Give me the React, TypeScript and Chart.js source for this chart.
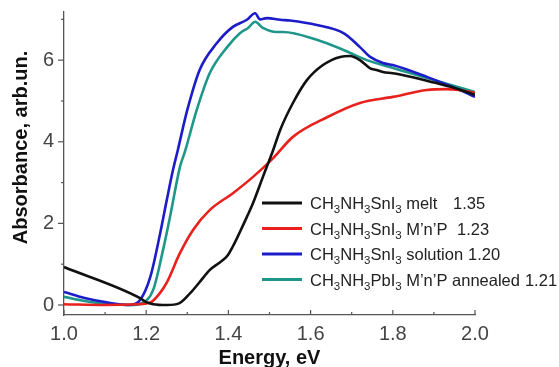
import { useEffect, useRef } from 'react';
import { Chart, registerables } from 'chart.js';

Chart.register(...registerables);

// ---- data ----
const meltEnergy = [1.0, 1.185, 1.2, 1.217, 1.25, 1.28, 1.307, 1.33, 1.355, 1.38, 1.397, 1.411, 1.428, 1.445, 1.46, 1.484, 1.509, 1.526, 1.557, 1.591, 1.63, 1.672, 1.696, 1.72, 1.745, 1.76, 1.776, 1.8, 1.84, 1.9, 1.95, 2.0];
const meltAbs = [0.93, 0.17, 0.07, 0.02, 0.0, 0.04, 0.29, 0.56, 0.86, 1.05, 1.2, 1.44, 1.79, 2.16, 2.5, 3.14, 3.8, 4.29, 4.95, 5.51, 5.88, 6.08, 6.1, 6.0, 5.8, 5.76, 5.71, 5.68, 5.6, 5.45, 5.32, 5.15];

const mnpEnergy = [1.0, 1.1, 1.18, 1.21, 1.23, 1.25, 1.282, 1.314, 1.355, 1.411, 1.46, 1.509, 1.557, 1.64, 1.72, 1.8, 1.883, 1.93, 1.96, 2.0];
const mnpAbs = [0.02, 0.0, 0.02, 0.06, 0.25, 0.55, 1.27, 1.84, 2.33, 2.74, 3.14, 3.6, 4.12, 4.6, 4.95, 5.1, 5.27, 5.29, 5.27, 5.2];

const solEnergy = [1.0, 1.05, 1.1, 1.16, 1.185, 1.21, 1.234, 1.25, 1.265, 1.277, 1.3, 1.33, 1.372, 1.41, 1.445, 1.465, 1.477, 1.494, 1.526, 1.55, 1.615, 1.68, 1.72, 1.745, 1.776, 1.8, 1.883, 1.963, 2.0];
const solAbs = [0.32, 0.17, 0.07, 0.0, 0.12, 0.69, 1.76, 2.57, 3.3, 3.8, 4.78, 5.76, 6.42, 6.81, 6.99, 7.15, 7.0, 7.03, 6.99, 6.97, 6.86, 6.66, 6.32, 6.08, 5.93, 5.88, 5.59, 5.27, 5.1];

const pbEnergy = [1.0, 1.05, 1.1, 1.16, 1.19, 1.217, 1.241, 1.258, 1.282, 1.294, 1.323, 1.355, 1.397, 1.428, 1.448, 1.465, 1.484, 1.518, 1.533, 1.615, 1.68, 1.737, 1.793, 1.84, 1.92, 2.0];
const pbAbs = [0.2, 0.1, 0.03, 0.0, 0.05, 0.37, 1.35, 2.16, 3.38, 3.75, 4.78, 5.69, 6.32, 6.66, 6.79, 6.94, 6.79, 6.69, 6.69, 6.5, 6.25, 6.0, 5.83, 5.69, 5.45, 5.22];

const seriesNames = ['CH3NH3SnI3 melt', 'CH3NH3SnI3 M\u2019n\u2019P', 'CH3NH3SnI3 solution', 'CH3NH3PbI3 M\u2019n\u2019P annealed'];
const bandGaps = ['1.35', '1.23', '1.20', '1.21'];
const seriesColors = ['#111111', '#e8211d', '#1c1cc8', '#1f968a'];

const xMajorTicks = [1.0, 1.2, 1.4, 1.6, 1.8, 2.0];
const xMinorTicks = [1.1, 1.3, 1.5, 1.7, 1.9];
const yMajorTicks = [0, 2, 4, 6];
const yMinorTicks = [1, 3, 5, 7];

const FONT = '"Liberation Sans", Arial, Helvetica, sans-serif';

function drawRich(ctx: CanvasRenderingContext2D, text: string, x: number, y: number) {
  // digits are drawn as subscripts (chemical formula)
  let cx = x;
  for (const ch of text) {
    if (/[0-9]/.test(ch)) {
      ctx.font = `11.5px ${FONT}`;
      ctx.fillText(ch, cx, y + 4);
    } else {
      ctx.font = `16.5px ${FONT}`;
      ctx.fillText(ch, cx, y);
    }
    cx += ctx.measureText(ch).width;
  }
  return cx;
}

const decorPlugin = {
  id: 'decor',
  afterDraw(chart: any) {
    const { ctx, chartArea: a, scales } = chart;
    const x = scales.x;
    const y = scales.y;
    ctx.save();
    ctx.strokeStyle = '#555';
    ctx.lineWidth = 1.2;
    const seg = (x0: number, y0: number, x1: number, y1: number) => {
      ctx.beginPath();
      ctx.moveTo(x0, y0);
      ctx.lineTo(x1, y1);
      ctx.stroke();
    };
    xMajorTicks.forEach((v) => {
      const px = x.getPixelForValue(v);
      seg(px, a.bottom, px, a.bottom - 5);
    });
    xMinorTicks.forEach((v) => {
      const px = x.getPixelForValue(v);
      seg(px, a.bottom, px, a.bottom - 3);
    });
    yMajorTicks.forEach((v) => {
      const py = y.getPixelForValue(v);
      seg(a.left, py, a.left - 6, py);
    });
    yMinorTicks.forEach((v) => {
      const py = y.getPixelForValue(v);
      seg(a.left, py, a.left - 3, py);
    });

    // y-axis title
    ctx.save();
    ctx.translate(a.left - 43, (a.top + a.bottom) / 2 - 16);
    ctx.rotate(-Math.PI / 2);
    ctx.font = `bold 20px ${FONT}`;
    ctx.fillStyle = '#111';
    ctx.textAlign = 'center';
    ctx.textBaseline = 'middle';
    ctx.fillText('Absorbance, arb.un.', 0, 0);
    ctx.restore();

    // legend inside the plot
    const gapOffsets = [389, 393, 398, 0];
    ctx.textAlign = 'left';
    ctx.textBaseline = 'alphabetic';
    seriesNames.forEach((name, i) => {
      const rowY = a.top + 191 + i * 25.5;
      ctx.strokeStyle = seriesColors[i];
      ctx.lineWidth = 3;
      seg(a.left + 198, rowY, a.left + 238, rowY);
      ctx.fillStyle = '#222';
      const end = drawRich(ctx, name, a.left + 246, rowY + 6);
      ctx.font = `16.5px ${FONT}`;
      const gx = Math.max(a.left + gapOffsets[i], end + 5);
      ctx.fillText(bandGaps[i], gx, rowY + 6);
    });
    ctx.restore();
  },
};

function toPoints(xs: number[], ys: number[]) {
  return xs.map((e, i) => ({ x: e, y: ys[i] }));
}

export default function App() {
  const canvasRef = useRef<HTMLCanvasElement | null>(null);

  useEffect(() => {
    const canvas = canvasRef.current;
    if (!canvas) return;
    const series = [
      toPoints(meltEnergy, meltAbs),
      toPoints(mnpEnergy, mnpAbs),
      toPoints(solEnergy, solAbs),
      toPoints(pbEnergy, pbAbs),
    ];
    const chart = new Chart(canvas, {
      type: 'line',
      data: {
        datasets: series.map((pts, i) => ({
          label: seriesNames[i],
          data: pts,
          borderColor: seriesColors[i],
          backgroundColor: seriesColors[i],
          borderWidth: 2.6,
          pointRadius: 0,
          cubicInterpolationMode: 'monotone' as const,
          fill: false,
        })),
      },
      options: {
        responsive: false,
        animation: false,
        events: [],
        layout: { padding: { top: 12, right: 84, bottom: 0, left: 0 } },
        plugins: {
          legend: { display: false },
          tooltip: { enabled: false },
        },
        scales: {
          x: {
            type: 'linear',
            min: 1.0,
            max: 2.0,
            grid: { display: false, drawTicks: false },
            border: { display: true, color: '#555', width: 1.3 },
            afterBuildTicks: (scale: any) => {
              scale.ticks = xMajorTicks.map((v) => ({ value: v }));
            },
            afterFit: (scale: any) => {
              scale.height = 52;
              scale.paddingLeft = 0;
              scale.paddingRight = 0;
            },
            ticks: {
              padding: 7,
              color: '#444',
              font: { size: 20, family: FONT },
              callback: (v: any) => Number(v).toFixed(1),
            },
            title: {
              display: true,
              text: 'Energy, eV',
              color: '#111',
              font: { size: 20, weight: 'bold', family: FONT },
              padding: { top: 0, bottom: -3 },
            },
          },
          y: {
            type: 'linear',
            min: -0.245,
            max: 7.18,
            grid: { display: false, drawTicks: false },
            border: { display: true, color: '#555', width: 1.3 },
            afterBuildTicks: (scale: any) => {
              scale.ticks = yMajorTicks.map((v) => ({ value: v }));
            },
            afterFit: (scale: any) => {
              scale.width = 64;
              scale.paddingTop = 0;
              scale.paddingBottom = 0;
            },
            ticks: {
              padding: 10,
              color: '#444',
              font: { size: 20, family: FONT },
              callback: (v: any) => String(v),
            },
          },
        },
      },
      plugins: [decorPlugin],
    });
    return () => chart.destroy();
  }, []);

  return (
    <div style={{ position: 'absolute', left: 0, top: 0, width: 559, height: 367, background: '#fff' }}>
      <canvas ref={canvasRef} width={559} height={367} style={{ display: 'block' }} />
    </div>
  );
}
